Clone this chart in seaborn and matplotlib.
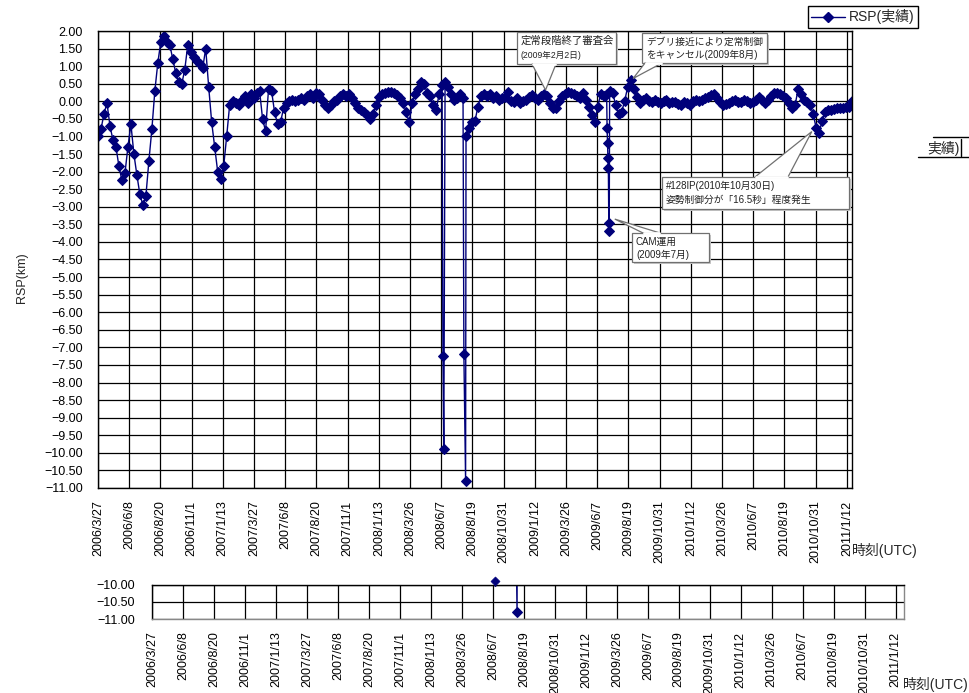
import numpy as np
import pandas as pd
import matplotlib
matplotlib.use('Agg')
import matplotlib.pyplot as plt
import matplotlib.dates as mdates
import seaborn as sns
from matplotlib.lines import Line2D
from matplotlib.patches import Rectangle, Polygon

# ---- data ----
start_date = '2006-03-27'   # weekly samples from this date
weekly_rsp = [
    -1.0, -0.8, -0.35, -0.05, -0.7, -1.1, -1.3, -1.85, -2.25, -2.05,
    -1.3, -0.65, -1.5, -2.1, -2.65, -2.95, -2.7, -1.7, -0.8, 0.3,
    1.1, 1.7, 1.85, 1.7, 1.6, 1.2, 0.8, 0.55, 0.5, 0.9,
    1.6, 1.4, 1.25, 1.15, 1.05, 0.95, 1.5, 0.4, -0.6, -1.3,
    -2.0, -2.2, -1.85, -1.0, -0.1, 0.0, -0.05, -0.1, 0.05, 0.15,
    -0.05, 0.2, 0.1, 0.25, 0.3, -0.5, -0.85, 0.35, 0.3, -0.3,
    -0.65, -0.6, -0.2, -0.05, 0.0, 0.05, 0.0, 0.05, 0.1, 0.05,
    0.15, 0.2, 0.1, 0.25, 0.2, 0.05, -0.1, -0.2, -0.1, 0.0,
    0.05, 0.15, 0.2, 0.15,
    0.2, 0.1, -0.05, -0.2, -0.25, -0.3, -0.4, -0.5, -0.35, -0.1,
    0.13, 0.2, 0.25, 0.27, 0.27, 0.25, 0.18, 0.1, -0.05, -0.3,
    -0.6, -0.05, 0.2, 0.35, 0.55, 0.5, 0.25, 0.15, -0.1, -0.25,
    0.2, 0.45, 0.55, 0.4, 0.2, 0.05, 0.1, 0.2, 0.1, -1.0,
    -0.75, -0.6, -0.55, -0.15, 0.15, 0.22, 0.15, 0.2, 0.1, 0.15,
    0.05, 0.1, 0.13, 0.27, 0.0, -0.02, 0.1, -0.05, 0.0, 0.05,
    0.13, 0.17, 0.1, 0.05, 0.15, 0.2, 0.15, -0.05, -0.2, -0.2,
    0.0, 0.15, 0.2, 0.27, 0.25, 0.2, 0.15, 0.1, 0.25, 0.05,
    -0.15, -0.4, -0.6, -0.15,
    0.2, 0.15, 0.2, 0.3, 0.25, -0.1, -0.35, -0.3, 0.0, 0.4,
    0.6, 0.35, 0.13, -0.05, 0.05, 0.08, 0.0, -0.02, 0.03, -0.02,
    -0.06, 0.0, 0.03, -0.06, -0.02, -0.02, -0.08, -0.1, -0.02, -0.06,
    -0.1, 0.0, 0.03, 0.0, 0.05, 0.08, 0.13, 0.17, 0.2, 0.1,
    -0.02, -0.1, -0.08, -0.05, 0.0, 0.03, -0.02, -0.02, 0.03, 0.0,
    -0.06, -0.02, 0.05, 0.13, 0.05, -0.06, 0.05, 0.15, 0.25, 0.25,
    0.22, 0.15, 0.1, -0.05, -0.2, -0.1, 0.35, 0.2, 0.05, -0.02,
    -0.1, -0.35, -0.75, -0.9, -0.55, -0.3, -0.25, -0.25, -0.22, -0.2,
    -0.2, -0.18, -0.15, -0.15, 0.0,
]
# short excursions between the weekly samples
event_dates = ['2008-06-11', '2008-06-13', '2008-07-30', '2008-08-03',
               '2009-06-30', '2009-07-01', '2009-07-02', '2009-07-03', '2009-07-04', '2009-07-05']
event_rsp = [-7.25, -9.9, -7.2, -10.8,
             -0.75, -1.2, -1.6, -1.9, -3.45, -3.7]

tick_labels = ['2006/3/27', '2006/6/8', '2006/8/20', '2006/11/1', '2007/1/13', '2007/3/27',
               '2007/6/8', '2007/8/20', '2007/11/1', '2008/1/13', '2008/3/26', '2008/6/7',
               '2008/8/19', '2008/10/31', '2009/1/12', '2009/3/26', '2009/6/7', '2009/8/19',
               '2009/10/31', '2010/1/12', '2010/3/26', '2010/6/7', '2010/8/19', '2010/10/31',
               '2011/1/12']

# callouts: (box in image px x0,y0,x1,y1), pointer base (edge, xa, xb), tip (date, value), text lines
callouts = [
    ((517, 32, 616, 64), ('bottom', 532, 556), ('2009-02-06', 0.32),
     [('定常段階終了審査会', 7.5, 36), ('(2009年2月2日)', 6.2, 51)]),
    ((642, 33, 767, 63), ('bottom', 645, 662), ('2009-08-30', 0.65),
     [('デブリ接近により定常制御', 7, 37), ('をキャンセル(2009年8月)', 7, 50)]),
    ((632, 233, 709, 262), ('top', 643, 660), ('2009-07-18', -3.35),
     [('CAM運用', 7, 237), ('(2009年7月)', 7, 250)]),
    ((662, 177, 849, 209), ('top', 755, 788), ('2010-10-22', -0.86),
     [('#128IP(2010年10月30日)', 7, 181), ('姿勢制御分が「16.5秒」程度発生', 7, 195)]),
]

navy = '#00007a'
ms = 5.5

sns.set_theme(style='white')
plt.rcParams['font.family'] = ['Liberation Sans', 'Noto Sans CJK JP', 'DejaVu Sans']

weekly = pd.DataFrame({'date': pd.date_range(start_date, periods=len(weekly_rsp), freq='7D'),
                       'rsp': weekly_rsp})
events = pd.DataFrame({'date': pd.to_datetime(event_dates), 'rsp': event_rsp})
df = pd.concat([weekly, events]).sort_values('date').reset_index(drop=True)

tick_dates = pd.to_datetime(tick_labels, format='%Y/%m/%d')
t0 = pd.Timestamp(start_date)

W, H = 969, 693
fig = plt.figure(figsize=(W / 100, H / 100), dpi=100)


def frac(x0, y0, x1, y1):
    return [x0 / W, 1 - y1 / H, (x1 - x0) / W, (y1 - y0) / H]


def style_axes(a, yticks, xmax_days, ypad, xpad):
    a.set_xlim(t0, t0 + pd.Timedelta(days=xmax_days))
    a.set_xticks(tick_dates)
    a.set_xticklabels(tick_labels, rotation=90, fontsize=9)
    a.set_yticks(yticks)
    a.set_yticklabels([f'{v:.2f}'.replace('-', '\u2212') for v in yticks], fontsize=9)
    a.grid(True, color='black', lw=0.9)
    a.tick_params(axis='both', length=0, colors='black')
    a.tick_params(axis='y', pad=ypad)
    a.tick_params(axis='x', pad=xpad)
    a.set_xlabel('')
    a.set_ylabel('')
    for s in a.spines.values():
        s.set_color('black')
        s.set_linewidth(1)


# main panel
ax = fig.add_axes(frac(98, 31, 852, 488))
sns.lineplot(data=df, x='date', y='rsp', ax=ax, color=navy, lw=1, marker='D', markersize=ms,
             markeredgecolor=navy, estimator=None, sort=False, legend=False)
ax.set_ylim(-11, 2)
style_axes(ax, np.arange(-11, 2.01, 0.5), 1764, 11, 9)

# lower strip (-10 .. -11)
ax2 = fig.add_axes(frac(152, 584.7, 904, 619))
sns.lineplot(data=df, x='date', y='rsp', ax=ax2, color=navy, lw=1, marker='D', markersize=ms,
             markeredgecolor=navy, estimator=None, sort=False, legend=False)
# a point sitting just above the strip's top line is still drawn
near_top = df[(df['rsp'] > -10) & (df['rsp'] < -9.8)]
sns.scatterplot(data=near_top, x='date', y='rsp', ax=ax2, color=navy, marker='D', s=22,
                edgecolor=navy, clip_on=False, legend=False, zorder=5)
ax2.set_ylim(-11, -10)
style_axes(ax2, [-11, -10.5, -10], 1771.5, 12, 9)
ax2.spines['bottom'].set_color('#888888')
ax2.spines['right'].set_color('#888888')

fig.text(22 / W, 1 - 278 / H, 'RSP(km)', rotation=90, ha='center', va='center', fontsize=9)
fig.text(852 / W, 1 - 551 / H, '時刻(UTC)', ha='left', va='center', fontsize=10)
fig.text(903 / W, 1 - 685 / H, '時刻(UTC)', ha='left', va='center', fontsize=10)

handle = Line2D([], [], color=navy, lw=1, marker='D', markersize=ms)
leg = fig.legend([handle], ['RSP(実績)'], loc='upper right', bbox_to_anchor=(918 / W, 1 - 6 / H),
                 frameon=True, fancybox=False, edgecolor='black', framealpha=1, fontsize=10,
                 borderpad=0.25, handlelength=2.4, handletextpad=0.3, borderaxespad=0)
leg.get_frame().set_linewidth(1)

# overlay in image pixel coordinates for callouts
ov = fig.add_axes([0, 0, 1, 1], facecolor='none')
ov.set_xlim(0, W)
ov.set_ylim(H, 0)
ov.axis('off')

for (x0, y0, x1, y1), (edge, xa, xb), (tdate, tval), lines in callouts:
    disp = ax.transData.transform((mdates.date2num(pd.Timestamp(tdate)), tval))
    tip = ov.transData.inverted().transform(disp)
    ey = y1 if edge == 'bottom' else y0
    ov.add_patch(Rectangle((x0 + 2, y0 + 2), x1 - x0, y1 - y0, facecolor='#c8c8c8', edgecolor='none', zorder=3))
    ov.add_patch(Rectangle((x0, y0), x1 - x0, y1 - y0, facecolor='white', edgecolor='#707070', lw=0.9, zorder=4))
    ov.add_patch(Polygon([(xa, ey), tuple(tip), (xb, ey)], closed=True, facecolor='white',
                         edgecolor='#707070', lw=0.9, zorder=5))
    ov.plot([xa + 1, xb - 1], [ey, ey], color='white', lw=2, zorder=6)
    for txt, size, ytop in lines:
        ov.text(x0 + 4, ytop, txt, fontsize=size, ha='left', va='top', color='#222222', zorder=7)

# clipped fragment of a neighbouring legend at the right edge
ov.text(927, 148, '実績)', fontsize=10, ha='left', va='center', zorder=7)
ov.plot([933, W], [137, 137], color='black', lw=1)
ov.plot([918, W], [157, 157], color='black', lw=1)
ov.plot([961, 961], [139, 156], color='black', lw=1)

fig.savefig('out.png', dpi=100)
